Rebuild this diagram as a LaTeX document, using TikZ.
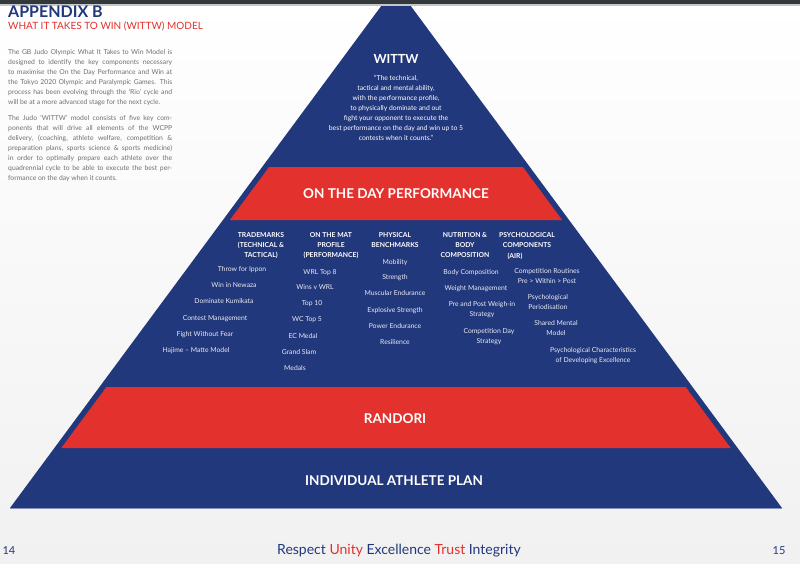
\documentclass[tikz,border=0pt]{standalone}
\usepackage{fontspec}
\setmainfont{Lato}
\definecolor{pblue}{HTML}{22387C}
\definecolor{pred}{HTML}{E3312D}
\definecolor{bodygray}{HTML}{707070}
\definecolor{topbar}{HTML}{33383C}
\definecolor{bgpage}{HTML}{F1F1F1}
\definecolor{itemwhite}{HTML}{E8EAF2}
\tikzset{
  hdr/.style={font=\bfseries\fontsize{6.8}{10}\selectfont, text=white, align=center, inner sep=0pt, anchor=north},
  item/.style={font=\fontsize{6.8}{10}\selectfont, text=itemwhite, align=center, inner sep=0pt, anchor=base},
  itemtwo/.style={font=\fontsize{6.8}{10}\selectfont, text=itemwhite, align=center, inner sep=0pt, anchor=north},
  bandtext/.style={font=\bfseries\fontsize{13.5}{14}\selectfont, text=white, inner sep=0pt, anchor=base},
  bodypar/.style={font=\fontsize{6.8}{10}\selectfont, text=bodygray, text width=164pt, align=justify, inner sep=0pt, anchor=base west},
}
\begin{document}
\begin{tikzpicture}[x=1pt,y=-1pt]
\useasboundingbox (0,0) rectangle (800,563);
\shade[top color=white, bottom color=bgpage] (0,0) rectangle (800,563);
% pyramid
\fill[pblue] (396,-14) -- (782,508) -- (10,508) -- cycle;
\draw[pblue!55!white, line width=0.6pt] (10,508) -- (782,508);
% bands
\fill[pred] (269.1,167) -- (522.9,167) -- (562.1,220) -- (229.9,220) -- cycle;
\fill[pred] (106.4,387) -- (685.6,387) -- (730.7,448) -- (61.3,448) -- cycle;
% top bar
\fill[topbar] (0,0) rectangle (800,4);
\fill[gray!45] (0,4) rectangle (800,5.5);

% left titles
\node[anchor=base west, inner sep=0pt, text=pblue, font=\bfseries\fontsize{16}{16}\selectfont] (appx) at (8,17) {APPENDIX B};
\node[anchor=base west, inner sep=0pt, text=pred, font=\fontsize{10}{11}\selectfont] (subt) at (8,29.5) {WHAT IT TAKES TO WIN (WITTW) MODEL};

\node[bodypar] (par1) at (8,54.4) {The GB Judo Olympic What It Takes to Win Model is\linebreak
designed to identify the key components necessary\linebreak
to maximise the On the Day Performance and Win at\linebreak
the Tokyo 2020 Olympic and Paralympic Games. This\linebreak
process has been evolving through the ‘Rio’ cycle and\linebreak
will be at a more advanced stage for the next cycle.};

\node[bodypar] (par2) at (8,120.4) {The Judo ‘WITTW’ model consists of five key com-\linebreak
ponents that will drive all elements of the WCPP\linebreak
delivery, (coaching, athlete welfare, competition \&\linebreak
preparation plans, sports science \& sports medicine)\linebreak
in order to optimally prepare each athlete over the\linebreak
quadrennial cycle to be able to execute the best per-\linebreak
formance on the day when it counts.};

% WITTW
\node[font=\bfseries\fontsize{12.5}{13}\selectfont, text=white, inner sep=0pt, anchor=base] (wittw) at (396,63) {WITTW};
\node[itemtwo, text=white] (quote) at (396,75.5) {“The technical,\\
tactical and mental ability,\\
with the performance profile,\\
to physically dominate and out\\
fight your opponent to execute the\\
best performance on the day and win up to 5\\
contests when it counts.”};

\node[bandtext] (otdp) at (396,198) {ON THE DAY PERFORMANCE};
\node[bandtext] (randori) at (395,423) {RANDORI};
\node[bandtext] (iap) at (394,485) {INDIVIDUAL ATHLETE PLAN};

% column headers
\node[hdr] (h1) at (261,232.6) {TRADEMARKS\\(TECHNICAL \&\\TACTICAL)};
\node[hdr] (h2) at (331,232.6) {ON THE MAT\\PROFILE\\(PERFORMANCE)};
\node[hdr] (h3) at (395,232.6) {PHYSICAL\\BENCHMARKS};
\node[hdr] (h4) at (465,232.6) {NUTRITION \&\\BODY\\COMPOSITION};
\node[hdr] (h5) at (527,232.6) {PSYCHOLOGICAL\\COMPONENTS};
\node[hdr] (h5b) at (515,252.6) {(AIR)};

% trademarks
\node[item] (t1) at (242,271.4) {Throw for Ippon};
\node[item] (t2) at (234,287.4) {Win in Newaza};
\node[item] (t3) at (224,303.4) {Dominate Kumikata};
\node[item] (t4) at (215,320.4) {Contest Management};
\node[item] (t5) at (205,336.4) {Fight Without Fear};
\node[item] (t6) at (196,352.4) {Hajime – Matte Model};

% on the mat
\node[item] (m1) at (320,274.4) {WRL Top 8};
\node[item] (m2) at (315,289.4) {Wins v WRL};
\node[item] (m3) at (312,305.4) {Top 10};
\node[item] (m4) at (307,321.4) {WC Top 5};
\node[item] (m5) at (303,338.4) {EC Medal};
\node[item] (m6) at (299,354.4) {Grand Slam};
\node[item] (m7) at (295,370.4) {Medals};

% physical
\node[item] (p1) at (395,264.4) {Mobility};
\node[item] (p2) at (395,279.4) {Strength};
\node[item] (p3) at (395,295.4) {Muscular Endurance};
\node[item] (p4) at (395,312.4) {Explosive Strength};
\node[item] (p5) at (395,328.4) {Power Endurance};
\node[item] (p6) at (395,344.4) {Resilience};

% nutrition
\node[item] (n1) at (471,274.4) {Body Composition};
\node[item] (n2) at (476,290.4) {Weight Management};
\node[itemtwo] (n3) at (482,301.5) {Pre and Post Weigh-in\\Strategy};
\node[itemtwo] (n4) at (489,328.5) {Competition Day\\Strategy};

% psychological
\node[itemtwo] (s1) at (547,268.5) {Competition Routines\\Pre > Within > Post};
\node[itemtwo] (s2) at (548,294.5) {Psychological\\Periodisation};
\node[itemtwo] (s3) at (556,320.5) {Shared Mental\\Model};
\node[itemtwo] (s4) at (593,347.5) {Psychological Characteristics\\of Developing Excellence};

% footer
\node[inner sep=0pt, anchor=base, text=pblue, font=\fontsize{11}{11}\selectfont] (pg14) at (9,554) {14};
\node[inner sep=0pt, anchor=base, text=pblue, font=\fontsize{11}{11}\selectfont] (pg15) at (779,554) {15};
\node[inner sep=0pt, anchor=base, font=\fontsize{14}{14}\selectfont] (motto) at (399,554) {\textcolor{pblue}{Respect} \textcolor{pred}{Unity} \textcolor{pblue}{Excellence} \textcolor{pred}{Trust} \textcolor{pblue}{Integrity}};
\end{tikzpicture}
\end{document}
